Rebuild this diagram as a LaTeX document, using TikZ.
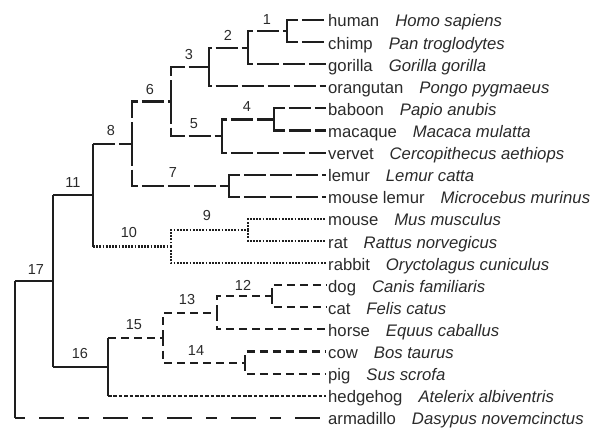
\documentclass[tikz,border=0pt]{standalone}
\usepackage{fontspec}
\setmainfont{Liberation Sans}
\definecolor{lc}{HTML}{1E1E1E}
\definecolor{tc}{HTML}{2A2A2A}
\begin{document}
\begin{tikzpicture}[x=1pt,y=-1pt,
  br/.style={line width=2.1pt, draw=lc},
  pri/.style={br, dash pattern=on 22pt off 4pt},
  rod/.style={br, line width=2.2pt, dash pattern=on 1.8pt off 1.4pt},
  lau/.style={br, dash pattern=on 8pt off 5pt},
  hed/.style={br, dash pattern=on 3.6pt off 1.8pt},
  arm/.style={br, dash pattern=on 25pt off 14pt on 11pt off 14pt, dash phase=40pt},
  leaf/.style={anchor=west, inner xsep=2pt, inner ysep=0pt, text height=14pt, text depth=0pt, font=\fontsize{16.7}{18}\selectfont, text=tc},
  num/.style={font=\fontsize{14.5}{16}\selectfont, text=tc, inner sep=0pt}
]
\useasboundingbox (0,0) rectangle (594,428);
% leaves
\node[leaf] (human)      at (326,20)    {human\hspace{16pt}\textit{Homo sapiens}};
\node[leaf] (chimp)      at (326,42.1)  {chimp\hspace{16pt}\textit{Pan troglodytes}};
\node[leaf] (gorilla)    at (326,64.2)  {gorilla\hspace{16pt}\textit{Gorilla gorilla}};
\node[leaf] (orangutan)  at (326,86.3)  {orangutan\hspace{16pt}\textit{Pongo pygmaeus}};
\node[leaf] (baboon)     at (326,108.4) {baboon\hspace{16pt}\textit{Papio anubis}};
\node[leaf] (macaque)    at (326,130.5) {macaque\hspace{16pt}\textit{Macaca mulatta}};
\node[leaf] (vervet)     at (326,152.6) {vervet\hspace{16pt}\textit{Cercopithecus aethiops}};
\node[leaf] (lemur)      at (326,174.7) {lemur\hspace{16pt}\textit{Lemur catta}};
\node[leaf] (mouselemur) at (326,196.8) {mouse lemur\hspace{16pt}\textit{Microcebus murinus}};
\node[leaf] (mouse)      at (326,218.9) {mouse\hspace{16pt}\textit{Mus musculus}};
\node[leaf] (rat)        at (326,241.0) {rat\hspace{16pt}\textit{Rattus norvegicus}};
\node[leaf] (rabbit)     at (326,263.1) {rabbit\hspace{16pt}\textit{Oryctolagus cuniculus}};
\node[leaf] (dog)        at (326,285.2) {dog\hspace{16pt}\textit{Canis familiaris}};
\node[leaf] (cat)        at (326,307.3) {cat\hspace{16pt}\textit{Felis catus}};
\node[leaf] (horse)      at (326,329.4) {horse\hspace{16pt}\textit{Equus caballus}};
\node[leaf] (cow)        at (326,351.5) {cow\hspace{16pt}\textit{Bos taurus}};
\node[leaf] (pig)        at (326,373.6) {pig\hspace{16pt}\textit{Sus scrofa}};
\node[leaf] (hedgehog)   at (326,395.7) {hedgehog\hspace{16pt}\textit{Atelerix albiventris}};
\node[leaf] (armadillo)  at (326,417.8) {armadillo\hspace{16pt}\textit{Dasypus novemcinctus}};
% internal nodes
\coordinate (n1)  at (287,31.05);
\coordinate (n2)  at (248,47.6);
\coordinate (n3)  at (209,67);
\coordinate (n4)  at (274,119.45);
\coordinate (n5)  at (222,136);
\coordinate (n6)  at (171,101.5);
\coordinate (n7)  at (229,185.75);
\coordinate (n8)  at (132,143.6);
\coordinate (n9)  at (248,229.95);
\coordinate (n10) at (171,246.5);
\coordinate (n11) at (93,195);
\coordinate (n12) at (272,296.25);
\coordinate (n13) at (217,312.8);
\coordinate (n14) at (245,362.55);
\coordinate (n15) at (163,337.7);
\coordinate (n16) at (108,366.7);
\coordinate (n17) at (53,280.85);
\coordinate (root) at (15,280.85);
% primates
\draw[pri] (n1) |- (human.west);
\draw[pri] (n1) |- (chimp.west);
\draw[pri] (n2) |- (n1);
\draw[pri] (n2) |- (gorilla.west);
\draw[pri] (n3) |- (n2);
\draw[pri] (n3) |- (orangutan.west);
\draw[pri] (n4) |- (baboon.west);
\draw[pri] (n4) |- (macaque.west);
\draw[pri] (n5) |- (n4);
\draw[pri] (n5) |- (vervet.west);
\draw[pri] (n6) |- (n3);
\draw[pri] (n6) |- (n5);
\draw[pri] (n7) |- (lemur.west);
\draw[pri] (n7) |- (mouselemur.west);
\draw[pri] (n8) |- (n6);
\draw[pri] (n8) |- (n7);
% rodents and rabbit
\draw[rod] (n9) |- (mouse.west);
\draw[rod] (n9) |- (rat.west);
\draw[rod] (n10) |- (n9);
\draw[rod] (n10) |- (rabbit.west);
% laurasiatheria
\draw[lau] (n12) |- (dog.west);
\draw[lau] (n12) |- (cat.west);
\draw[lau] (n13) |- (n12);
\draw[lau] (n13) |- (horse.west);
\draw[lau] (n14) |- (cow.west);
\draw[lau] (n14) |- (pig.west);
\draw[lau] (n15) |- (n13);
\draw[lau] (n15) |- (n14);
% solid backbone
\draw[br] (n11 |- n8) -- (n11 |- n10);
\draw[pri] (n11 |- n8) -- (n8);
\draw[rod] (n11 |- n10) -- (n10);
\draw[br] (n16 |- n15) -- (n16 |- hedgehog.west);
\draw[lau] (n16 |- n15) -- (n15);
\draw[hed] (n16 |- hedgehog.west) -- (hedgehog.west);
\draw[br] (n17 |- n11) -- (n17 |- n16);
\draw[br] (n17 |- n11) -- (n11);
\draw[br] (n17 |- n16) -- (n16);
\draw[br] (root) -- (root |- armadillo.west);
\draw[br] (root) -- (n17);
\draw[arm] (root |- armadillo.west) -- (armadillo.west);
% branch labels
\node[num] (l1)  at (267,19.5) {1};
\node[num] (l2)  at (228,35)   {2};
\node[num] (l3)  at (189,55)   {3};
\node[num] (l4)  at (247,107)  {4};
\node[num] (l5)  at (194,124)  {5};
\node[num] (l6)  at (150,90)   {6};
\node[num] (l7)  at (173,173)  {7};
\node[num] (l8)  at (111,131)  {8};
\node[num] (l9)  at (207,216)  {9};
\node[num] (l10) at (129,233)  {10};
\node[num] (l11) at (73,183)   {11};
\node[num] (l12) at (243,285)  {12};
\node[num] (l13) at (187,300)  {13};
\node[num] (l14) at (196,351)  {14};
\node[num] (l15) at (134,325)  {15};
\node[num] (l16) at (80,354)   {16};
\node[num] (l17) at (36,269.5) {17};
\end{tikzpicture}
\end{document}
